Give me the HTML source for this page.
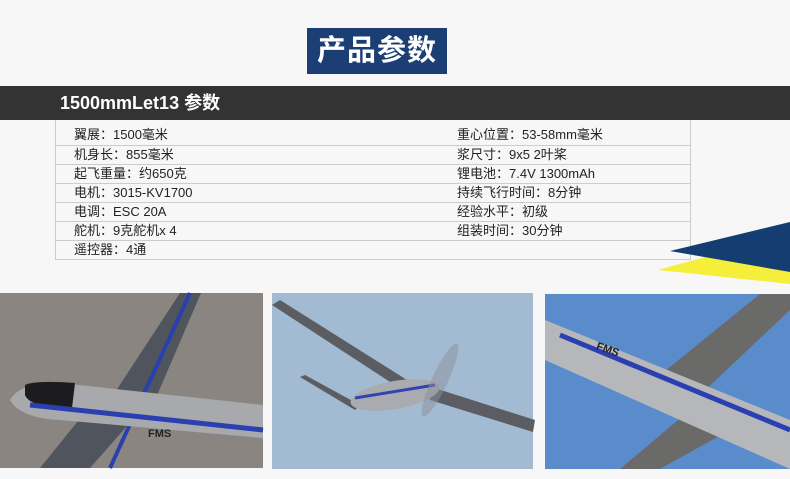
<!DOCTYPE html>
<html><head><meta charset="utf-8"><style>
body{margin:0;width:790px;height:479px;background:#f7f7f7;position:relative;overflow:hidden;font-family:"Liberation Sans","Noto Sans CJK SC",sans-serif}
.t{position:absolute;left:307px;top:28px;width:140px;height:46px;background:#1b3f74;color:#fff;font-size:29px;font-weight:bold;text-align:center;line-height:46px;letter-spacing:1px}
.bar{position:absolute;left:0;top:86px;width:790px;height:34px;background:#333;color:#fff;font-size:18px;font-weight:bold;line-height:34px}
.bar span{margin-left:60px}
table{position:absolute;left:55px;top:120px;width:636px;border-collapse:collapse;border-left:1px solid #ccc;border-right:1px solid #ccc;font-size:13px;color:#222}
td{border-bottom:1px solid #ccc;height:18px;padding:0 0 0 18px;line-height:18px;white-space:nowrap}
tr:first-child td{height:21px;padding-top:4px;line-height:21px}
</style></head><body>
<div class="t">产品参数</div>
<div class="bar"><span>1500mmLet13 参数</span></div>
<table>
<tr><td style="width:365px">翼展：1500毫米</td><td>重心位置：53-58mm毫米</td></tr>
<tr><td>机身长：855毫米</td><td>浆尺寸：9x5 2叶桨</td></tr>
<tr><td>起飞重量：约650克</td><td>锂电池：7.4V 1300mAh</td></tr>
<tr><td>电机：3015-KV1700</td><td>持续飞行时间：8分钟</td></tr>
<tr><td>电调：ESC 20A</td><td>经验水平：初级</td></tr>
<tr><td>舵机：9克舵机x 4</td><td>组装时间：30分钟</td></tr>
<tr><td>遥控器：4通</td><td></td></tr>
</table>
<svg style="position:absolute;left:0;top:0" width="790" height="479">
<polygon points="658,270 705,257 790,270 790,284" fill="#f5ee3a"/>
<polygon points="670,251 790,222 790,272" fill="#143e72"/>
<rect x="0" y="293" width="263" height="175" fill="#8a8580"/>
<polygon points="180,293 201,293 155,400 110,400" fill="#50545c"/>
<polygon points="95,400 150,400 90,468 40,468" fill="#50545c"/>
<line x1="190" y1="293" x2="110" y2="468" stroke="#2a3fb0" stroke-width="4"/>
<path d="M10,400 Q20,382 60,383 L263,405 L263,438 L60,420 Q20,418 10,400Z" fill="#a8a9ad"/>
<path d="M25,385 Q35,380 75,383 L72,408 Q30,408 25,395Z" fill="#1c1c1e"/>
<path d="M30,405 L263,430" stroke="#2a3fb0" stroke-width="5"/>
<rect x="272" y="293" width="261" height="176" fill="#a2bbd3"/>
<polygon points="272,305 280,300 415,385 410,395" fill="#5b5d62"/>
<polygon points="425,385 535,420 533,432 430,400" fill="#5b5d62"/>
<polygon points="300,377 305,375 360,405 355,410" fill="#5b5d62"/>
<ellipse cx="395" cy="395" rx="45" ry="14" fill="#a9abb0" transform="rotate(-10 395 395)"/>
<path d="M355,398 L435,385" stroke="#3344b0" stroke-width="3"/>
<ellipse cx="440" cy="380" rx="8" ry="40" fill="#8c9099" opacity="0.5" transform="rotate(25 440 380)"/>
<rect x="545" y="294" width="245" height="175" fill="#5a8ccc"/>
<polygon points="660,375 760,294 790,294 790,310 700,395" fill="#6a6a68"/>
<polygon points="620,469 690,410 730,430 660,469" fill="#6a6a68"/>
<path d="M545,320 L790,420 L790,469 L545,360Z" fill="#b5b7bb"/>
<path d="M560,335 L790,430" stroke="#2a3fb0" stroke-width="5"/>
</svg>
<div style="position:absolute;left:148px;top:428px;font-size:11px;font-weight:bold;color:#222">FMS</div>
<div style="position:absolute;left:596px;top:344px;font-size:11px;font-weight:bold;color:#222;transform:rotate(20deg)">FMS</div>
</body></html>
